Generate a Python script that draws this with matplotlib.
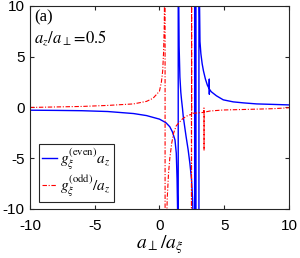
import matplotlib
matplotlib.use("Agg")
import matplotlib.pyplot as plt

plt.rcParams["font.family"] = ["Liberation Sans", "DejaVu Sans"]
plt.rcParams["mathtext.fontset"] = "stix"
plt.rcParams["axes.unicode_minus"] = False

# g_xi^(even) * a_z  (values beyond +-10 are off the axes, poles drawn as joined lines like the original)
even_x = [-10, -8, -6, -4, -2, -1, 0, 0.5, 0.8, 1.0, 1.2, 1.3, 1.36, 1.40, 1.445,
          1.455, 1.48, 1.52, 1.58, 1.65, 1.71, 1.78, 1.84, 1.95, 2.05, 2.22, 2.35, 2.48, 2.56, 2.6, 2.63,
          2.717, 2.723, 2.817, 2.823, 3.047, 3.053,
          3.08, 3.13, 3.2, 3.3, 3.4, 3.55, 3.7, 3.84, 3.85, 3.853, 3.86, 4.0, 4.4, 4.93, 5.7, 6.5, 7.5, 8.8, 10]
even_y = [-0.27, -0.29, -0.32, -0.4, -0.6, -0.8, -1.15, -1.5, -1.9, -2.4, -3.2, -4.5, -7, -10, -1000,
          1000, 12, 6, 3, 1.5, 0.7, -0.1, -0.9, -1.9, -2.8, -4.2, -5.5, -7.1, -9, -11, -1000,
          -1000, 1000, 1000, -1000, -1000, 1000,
          12, 6.5, 5.3, 4.3, 3.6, 2.8, 2.2, 1.85, 2.8, 1.3, 1.8, 1.55, 1.15, 0.75, 0.55, 0.45, 0.35, 0.3, 0.25]

# g_xi^(odd) / a_z
odd_x = [-10, -8, -6, -4, -2, -1, -0.5, 0, 0.15, 0.25, 0.32, 0.37, 0.40, 0.425,
         0.445, 0.5, 0.6, 0.7, 0.8, 0.95, 1.1, 1.3, 1.58, 1.8, 2.1, 2.4, 2.47,
         2.477, 2.483, 2.49, 2.6, 2.87, 3.3, 3.43, 3.44, 3.445, 3.45, 3.9, 4.93, 6.5, 8.8, 10]
odd_y = [0.0, 0.05, 0.1, 0.2, 0.35, 0.6, 0.9, 1.6, 2.5, 3.6, 5.5, 8, 12, 1000,
         -1000, -14, -9, -6.5, -5, -3.5, -2.5, -1.8, -1.4, -1.1, -0.85, -0.7, -0.68,
         -1000, 1000, -0.6, -0.57, -0.55, -0.5, -0.48, -0.05, -4.2, -0.47, -0.35, -0.25, -0.2, -0.12, -0.03]

fig = plt.figure(figsize=(3.0, 2.58), dpi=100)
ax = fig.add_axes([0.1, 0.19, 0.863, 0.787])

ax.plot(even_x, even_y, color="blue", lw=1.0, label=r"$g_\xi^{(\mathrm{even})}a_z$")
ax.plot(odd_x, odd_y, color="red", lw=0.8, ls=(0, (4, 1.5, 1, 1.5)),
        label=r"$g_\xi^{(\mathrm{odd})}/a_z$")

ax.set_xlim(-10, 10)
ax.set_ylim(-10, 10)
ax.set_xticks([-10, -5, 0, 5, 10])
ax.set_yticks([-10, -5, 0, 5, 10])
ax.tick_params(direction="in", top=True, right=True, labelsize=11, length=3,
               color="0.15")
ax.tick_params(axis="x", pad=7)
ax.tick_params(axis="y", pad=4)
for s in ax.spines.values():
    s.set_color("0.15")
    s.set_linewidth(0.8)

ax.set_xlabel(r"$a_\perp/a_\xi$", fontsize=14, labelpad=0)

ax.text(0.017, 0.945, "(a)", transform=ax.transAxes, fontsize=12,
        family=["Liberation Serif"], va="center")
ax.text(0.017, 0.84, r"$a_z/a_\perp\!=\!0.5$", transform=ax.transAxes, fontsize=12,
        va="center")

leg = ax.legend(loc="lower left", bbox_to_anchor=(0.035, 0.035), borderaxespad=0,
                fontsize=11, handlelength=1.0, handletextpad=0.2, borderpad=0.2,
                labelspacing=0.1, fancybox=False, framealpha=1)
leg.get_frame().set_edgecolor("0.15")
leg.get_frame().set_linewidth(0.8)

fig.savefig("out.png", dpi=100)
